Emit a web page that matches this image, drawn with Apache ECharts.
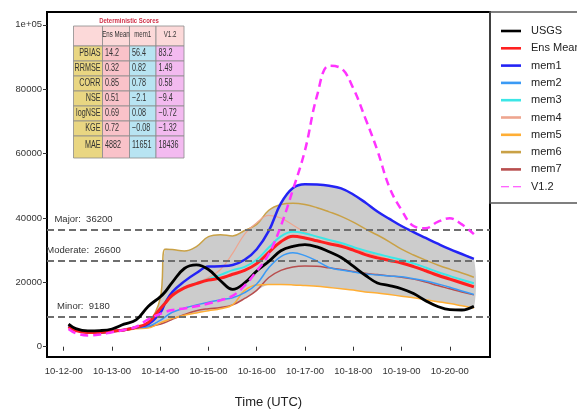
<!DOCTYPE html>
<html>
<head>
<meta charset="utf-8">
<script src="https://cdn.jsdelivr.net/npm/echarts@6/dist/echarts.min.js"></script>
<style>
  html, body { margin: 0; padding: 0; background: #fff; }
  #chart { width: 577px; height: 412px; }
</style>
</head>
<body>
<div id="chart"></div>
<script>
// time in days of October (10-12-00 = 12)
const days = [12.1, 12.25, 12.5, 12.75, 13, 13.25, 13.5, 13.75, 14, 14.1, 14.25, 14.5, 14.75, 15, 15.25, 15.5, 15.75, 16,
  16.25, 16.5, 16.75, 17, 17.25, 17.5, 17.75, 18, 18.25, 18.5, 18.75, 19, 19.25, 19.5, 19.75, 20, 20.25, 20.5];

const usgs = [7000, 5600, 4900, 5000, 5500, 7000, 8300, 12500, 15500, 17000, 20000, 24300, 25400, 24000, 20500, 17800, 19800, 23500,
  26500, 29800, 31200, 31700, 31000, 29500, 27700, 25000, 22200, 19800, 19000, 18000, 16500, 14300, 12500, 11500, 11400, 12600];
const ensMean = [6200, 5000, 4400, 4400, 4800, 5200, 6000, 7500, 11800, 13500, 16000, 18300, 19600, 20700, 21300, 22500, 23700, 25800,
  29300, 32600, 34300, 33800, 32900, 32000, 31200, 30000, 28600, 27600, 26800, 26000, 24900, 23600, 22200, 21000, 19800, 18600];
const mem1 = [6300, 5200, 4500, 4500, 4800, 5200, 6000, 7000, 10500, 13500, 17000, 20300, 22900, 24900, 25000, 25400, 27000, 30300,
  36000, 44500, 49300, 50500, 50400, 50000, 49200, 47300, 44800, 42000, 39700, 37500, 35600, 33800, 32000, 30300, 28800, 27300];
const mem2 = [6300, 5200, 4500, 4400, 4700, 5100, 5800, 6300, 8200, 9200, 10700, 12000, 13000, 13800, 14600, 15200, 16800, 19500,
  24500, 28000, 29200, 28300, 26600, 24600, 23800, 23200, 22600, 22300, 22000, 21700, 21100, 20400, 19500, 18500, 17300, 16200];
const mem3 = [6200, 5100, 4400, 4400, 4800, 5200, 6000, 7300, 11800, 13800, 16500, 18400, 19800, 21000, 22300, 23800, 24800, 27000,
  30800, 34300, 35700, 35200, 34200, 33200, 32200, 31000, 29800, 28800, 27900, 27000, 25900, 24600, 23200, 22000, 20800, 19700];
const mem4 = [6200, 5100, 4400, 4400, 4700, 5100, 5900, 7000, 11000, 13000, 15500, 18000, 19800, 21500, 24000, 29000, 35000, 38500,
  40800, 40000, 37800, 35600, 34100, 33000, 31800, 30600, 29400, 28200, 27200, 26200, 25100, 23900, 22600, 21400, 20200, 19000];
const mem5 = [6200, 5000, 4300, 4300, 4600, 5000, 5600, 5800, 7400, 8000, 8800, 9800, 10500, 11200, 11800, 13000, 17500, 19200,
  19300, 19300, 19200, 19000, 18800, 18400, 18000, 17600, 17000, 16700, 16200, 15700, 15200, 14600, 14000, 13400, 12700, 12000];
const mem6 = [6300, 5200, 4500, 4500, 4800, 5200, 6000, 7200, 15000, 30300, 30200, 29700, 31100, 34200, 34800, 34400, 36100, 38000,
  42400, 44200, 44600, 44200, 43200, 41900, 40500, 38700, 36600, 34700, 32600, 30300, 28500, 26900, 25400, 24100, 22900, 21600];
const mem7 = [6800, 5400, 4600, 4500, 4700, 5100, 5800, 6200, 7000, 7500, 8500, 10000, 11200, 11800, 12200, 13000, 15000, 17500,
  21500, 23700, 24800, 25100, 25000, 24500, 24000, 23400, 22800, 22400, 22000, 21600, 21000, 20100, 19000, 18000, 17000, 16100];
const v12 = [5500, 4200, 3500, 3800, 4500, 5200, 6200, 8500, 10200, 10800, 11400, 11900, 12600, 13400, 14400, 15800, 19000, 23500,
  28800, 37500, 48800, 61000, 78000, 87300, 86500, 80300, 71000, 61000, 49500, 42500, 37500, 36800, 38800, 39900, 38000, 35000];

const floodNames = ['Major', 'Moderate', 'Minor'];
const floodLevels = [36200, 26600, 9180];

const tickDays = [12, 13, 14, 15, 16, 17, 18, 19, 20];
const yTicks = [0, 20000, 40000, 60000, 80000, 100000];

// score table
const scoreTitle = 'Deterministic Scores';
const scoreCols = ['Ens Mean', 'mem1', 'V1.2'];
const scoreRows = ['PBIAS', 'RRMSE', 'CORR', 'NSE', 'logNSE', 'KGE', 'MAE'];
const ensMeanScores = ['14.2', '0.32', '0.85', '0.51', '0.69', '0.72', '4882'];
const mem1Scores = ['56.4', '0.82', '0.78', '\u22122.1', '0.08', '\u22120.08', '11651'];
const v12Scores = ['83.2', '1.49', '0.58', '\u22129.4', '\u22120.72', '\u22121.32', '18436'];

const FONT = "'Liberation Sans', Arial, Helvetica, sans-serif";
const members = [mem1, mem2, mem3, mem4, mem5, mem6, mem7];
const zip = arr => days.map((d, i) => [d, arr[i]]);
const bandLow = days.map((d, i) => Math.min(...members.map(m => m[i])));
const bandHigh = days.map((d, i) => Math.max(...members.map(m => m[i])));

function line(name, data, color, width, z, dashed) {
  return {
    name, type: 'line', data: zip(data), smooth: 0.4, symbol: 'none', showSymbol: false, z,
    lineStyle: { color, width, type: dashed ? [8, 5] : 'solid' },
    itemStyle: { color }, emphasis: { disabled: true }
  };
}

// table built from graphic elements
const colEdges = [73.5, 102.5, 129.5, 156, 184];
const rowEdges = [26, 46, 61, 76, 91, 106, 121, 136, 158];
const colFills = ['#e9d682', '#f9c2c9', '#b8e4f2', '#f3baf0'];
const tableEls = [];
function txt(x, y, text, align, size, extra) {
  tableEls.push(Object.assign({
    type: 'text', x, y, scaleX: 0.72, z: 10,
    style: { text, fill: '#333', font: size + 'px ' + FONT, textAlign: align, textVerticalAlign: 'middle' }
  }, extra || {}));
}
for (let r = 0; r < rowEdges.length - 1; r++) {
  for (let c = 0; c < colEdges.length - 1; c++) {
    tableEls.push({
      type: 'rect', z: 9,
      shape: { x: colEdges[c], y: rowEdges[r], width: colEdges[c + 1] - colEdges[c], height: rowEdges[r + 1] - rowEdges[r] },
      style: { fill: r === 0 ? '#fcd9d9' : colFills[c], stroke: '#8c8c8c', lineWidth: 0.8 }
    });
  }
}
txt(129, 20.5, scoreTitle, 'center', 8, { scaleX: 0.75 });
tableEls[tableEls.length - 1].style.fill = '#d0334a';
tableEls[tableEls.length - 1].style.font = 'bold 8px ' + FONT;
scoreCols.forEach((c, i) => txt((colEdges[i + 1] + colEdges[i + 2]) / 2, 34.5, c, 'center', 8.5));
const scoreCells = [ensMeanScores, mem1Scores, v12Scores];
scoreRows.forEach((name, r) => {
  const yc = r === scoreRows.length - 1 ? 145 : (rowEdges[r + 1] + rowEdges[r + 2]) / 2;
  txt(colEdges[1] - 2, yc, name, 'right', 10);
  scoreCells.forEach((col, c) => txt(colEdges[c + 1] + 2.5, yc, col[r], 'left', 10));
});

const legendNames = ['USGS', 'Ens Mean', 'mem1', 'mem2', 'mem3', 'mem4', 'mem5', 'mem6', 'mem7', 'V1.2'];
const dashIcon = 'path://M0,0h8v1h-8zM12,0h8v1h-8z';

const chart = echarts.init(document.getElementById('chart'));
chart.setOption({
  animation: false,
  backgroundColor: '#fff',
  textStyle: { fontFamily: FONT },
  grid: {
    left: 47, right: 87, top: 12, bottom: 55, outerBoundsMode: 'none',
    show: true, borderColor: '#000', borderWidth: 2, backgroundColor: 'transparent'
  },
  xAxis: {
    type: 'value', min: 11.654, max: 20.834,
    axisLine: { show: false },
    axisTick: { show: true, length: 4, customValues: tickDays, lineStyle: { color: '#333' } },
    axisLabel: { customValues: tickDays, formatter: v => '10-' + v + '-00', fontSize: 9.5, color: '#333', margin: 9 },
    splitLine: { show: false },
    name: 'Time (UTC)', nameLocation: 'middle', nameGap: 39,
    nameTextStyle: { fontSize: 13, color: '#222' }
  },
  yAxis: {
    type: 'value', min: -3200, max: 104000,
    axisLine: { show: false },
    axisTick: { show: true, length: 4, customValues: yTicks, lineStyle: { color: '#333' } },
    axisLabel: { customValues: yTicks, formatter: v => v === 100000 ? '1e+05' : String(v), fontSize: 9.5, color: '#333', margin: 5 },
    splitLine: { show: false }
  },
  legend: {
    data: legendNames.map(n => ({ name: n, icon: n === 'V1.2' ? dashIcon : 'rect' })),
    orient: 'vertical', left: 496, top: 20, itemWidth: 20, itemHeight: 2.6, itemGap: 5.3,
    selectedMode: false,
    textStyle: { fontSize: 11, color: '#222', lineHeight: 12, padding: [0, 0, 0, 5] }
  },
  graphic: [
    { type: 'rect', z: 5, shape: { x: 490, y: 12, width: 100, height: 191 }, style: { fill: 'none', stroke: '#555', lineWidth: 1.5 } },
    { type: 'group', children: tableEls }
  ],
  series: [
    {
      name: 'band', type: 'custom', z: 1, silent: true, clip: true,
      data: days.map((d, i) => [d, bandLow[i], bandHigh[i]]),
      encode: { x: 0, y: [1, 2] },
      renderItem: (params, api) => {
        if (params.dataIndex !== 0) return null;
        const top = days.map((d, i) => api.coord([d, bandHigh[i]]));
        const bot = days.map((d, i) => api.coord([d, bandLow[i]])).reverse();
        return { type: 'polygon', shape: { points: top.concat(bot), smooth: 0.3 }, style: { fill: '#cccccc' } };
      }
    },
    {
      name: 'flood', type: 'line', data: [], z: 2, silent: true,
      markLine: {
        silent: true, symbol: ['none', 'none'], label: { show: false },
        lineStyle: { color: '#6e6e6e', width: 2, type: [7, 4] },
        data: floodLevels.map(v => ({ yAxis: v }))
      },
      markPoint: {
        silent: true, symbol: 'rect', symbolSize: 1, itemStyle: { color: 'rgba(0,0,0,0)' },
        label: { show: true, position: 'top', distance: 5, color: '#333', fontSize: 9.5, formatter: p => p.name },
        data: floodLevels.map((v, i) => ({ name: floodNames[i] + ':  ' + v, coord: [12.41, v] }))
      }
    },
    line('mem7', mem7, '#b84e4e', 1.5, 3),
    line('mem6', mem6, '#c9a146', 1.5, 3),
    line('mem5', mem5, '#ffae35', 1.5, 3),
    line('mem4', mem4, '#eea58f', 1.2, 3),
    line('mem3', mem3, '#3ce6e6', 2, 3),
    line('mem2', mem2, '#3a9af5', 1.5, 3),
    line('mem1', mem1, '#2323f5', 2.5, 4),
    line('Ens Mean', ensMean, '#ff2020', 3, 4),
    line('USGS', usgs, '#000000', 2.8, 5),
    line('V1.2', v12, '#ff33ff', 2.5, 6, true)
  ]
});
</script>
</body>
</html>
